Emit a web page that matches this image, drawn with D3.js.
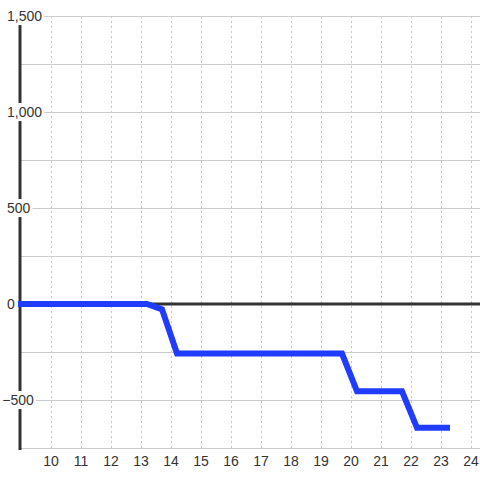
<!DOCTYPE html>
<html>
<head>
<meta charset="utf-8">
<script src="https://cdn.jsdelivr.net/npm/d3@7"></script>
<style>
  html, body { margin: 0; padding: 0; background: #fff; }
  text { font-family: "Liberation Sans", Arial, sans-serif; font-size: 14px; fill: #333; }
</style>
</head>
<body>
<svg id="chart" width="480" height="480"></svg>
<script>
// 数据
const xs = [8.9, 13.2, 13.7, 14.2, 19.7, 20.2, 21.7, 22.2, 23.3];
const ys = [0, 0, -28, -258, -258, -455, -455, -645, -645];
const xTicks = [10, 11, 12, 13, 14, 15, 16, 17, 18, 19, 20, 21, 22, 23, 24];
const yGrid = [-750, -500, -250, 0, 250, 500, 750, 1000, 1250, 1500];
const yLabels = [-500, 0, 500, 1000, 1500];

const svg = d3.select('#chart');
const x = d3.scaleLinear().domain([9, 24.3]).range([21, 480]);
const y = d3.scaleLinear().domain([-750, 1500]).range([448, 16]);
const fmt = d3.format(',');

// 竖向虚线
svg.append('g').selectAll('line').data(xTicks).enter().append('line')
  .attr('x1', d => x(d) + 0.5).attr('x2', d => x(d) + 0.5)
  .attr('y1', y(1500)).attr('y2', y(-750))
  .attr('stroke', '#c4c4c4').attr('stroke-width', 1).attr('stroke-dasharray', '2,3');

// 横向网格
svg.append('g').selectAll('line').data(yGrid.filter(d => d !== 0)).enter().append('line')
  .attr('x1', 20).attr('x2', 480)
  .attr('y1', d => y(d) + 0.5).attr('y2', d => y(d) + 0.5)
  .attr('stroke', '#cccccc').attr('stroke-width', 1);

// 零线
svg.append('line')
  .attr('x1', 20).attr('x2', 480).attr('y1', y(0)).attr('y2', y(0))
  .attr('stroke', '#333').attr('stroke-width', 3);

// 纵轴
svg.append('line')
  .attr('x1', 20).attr('x2', 20).attr('y1', y(1500)).attr('y2', y(-750) + 2)
  .attr('stroke', '#333').attr('stroke-width', 3);

// 折线
const line = d3.line().x((d, i) => x(xs[i])).y((d, i) => y(ys[i]));
svg.append('path').datum(ys)
  .attr('d', line)
  .attr('fill', 'none')
  .attr('stroke', '#1f3cff')
  .attr('stroke-width', 6)
  .attr('stroke-linejoin', 'miter');

// y 标签 (带白底)
const yl = svg.append('g');
yLabels.forEach(function (v) {
  let g = yl.append('g');
  let t = g.append('text')
    .attr('x', 7).attr('y', y(v)).attr('dy', '0.36em')
    .text(fmt(v));
  if (v < 0) t.attr('dx', -4.7);
  let b = t.node().getBBox();
  g.insert('rect', 'text')
    .attr('x', b.x - 2).attr('y', b.y - 1)
    .attr('width', b.width + 4).attr('height', b.height + 2)
    .attr('fill', '#fff');
});

// x 标签
svg.append('g').selectAll('text').data(xTicks).enter().append('text')
  .attr('x', d => x(d)).attr('y', 466)
  .attr('text-anchor', 'middle')
  .text(d => d);
</script>
</body>
</html>
